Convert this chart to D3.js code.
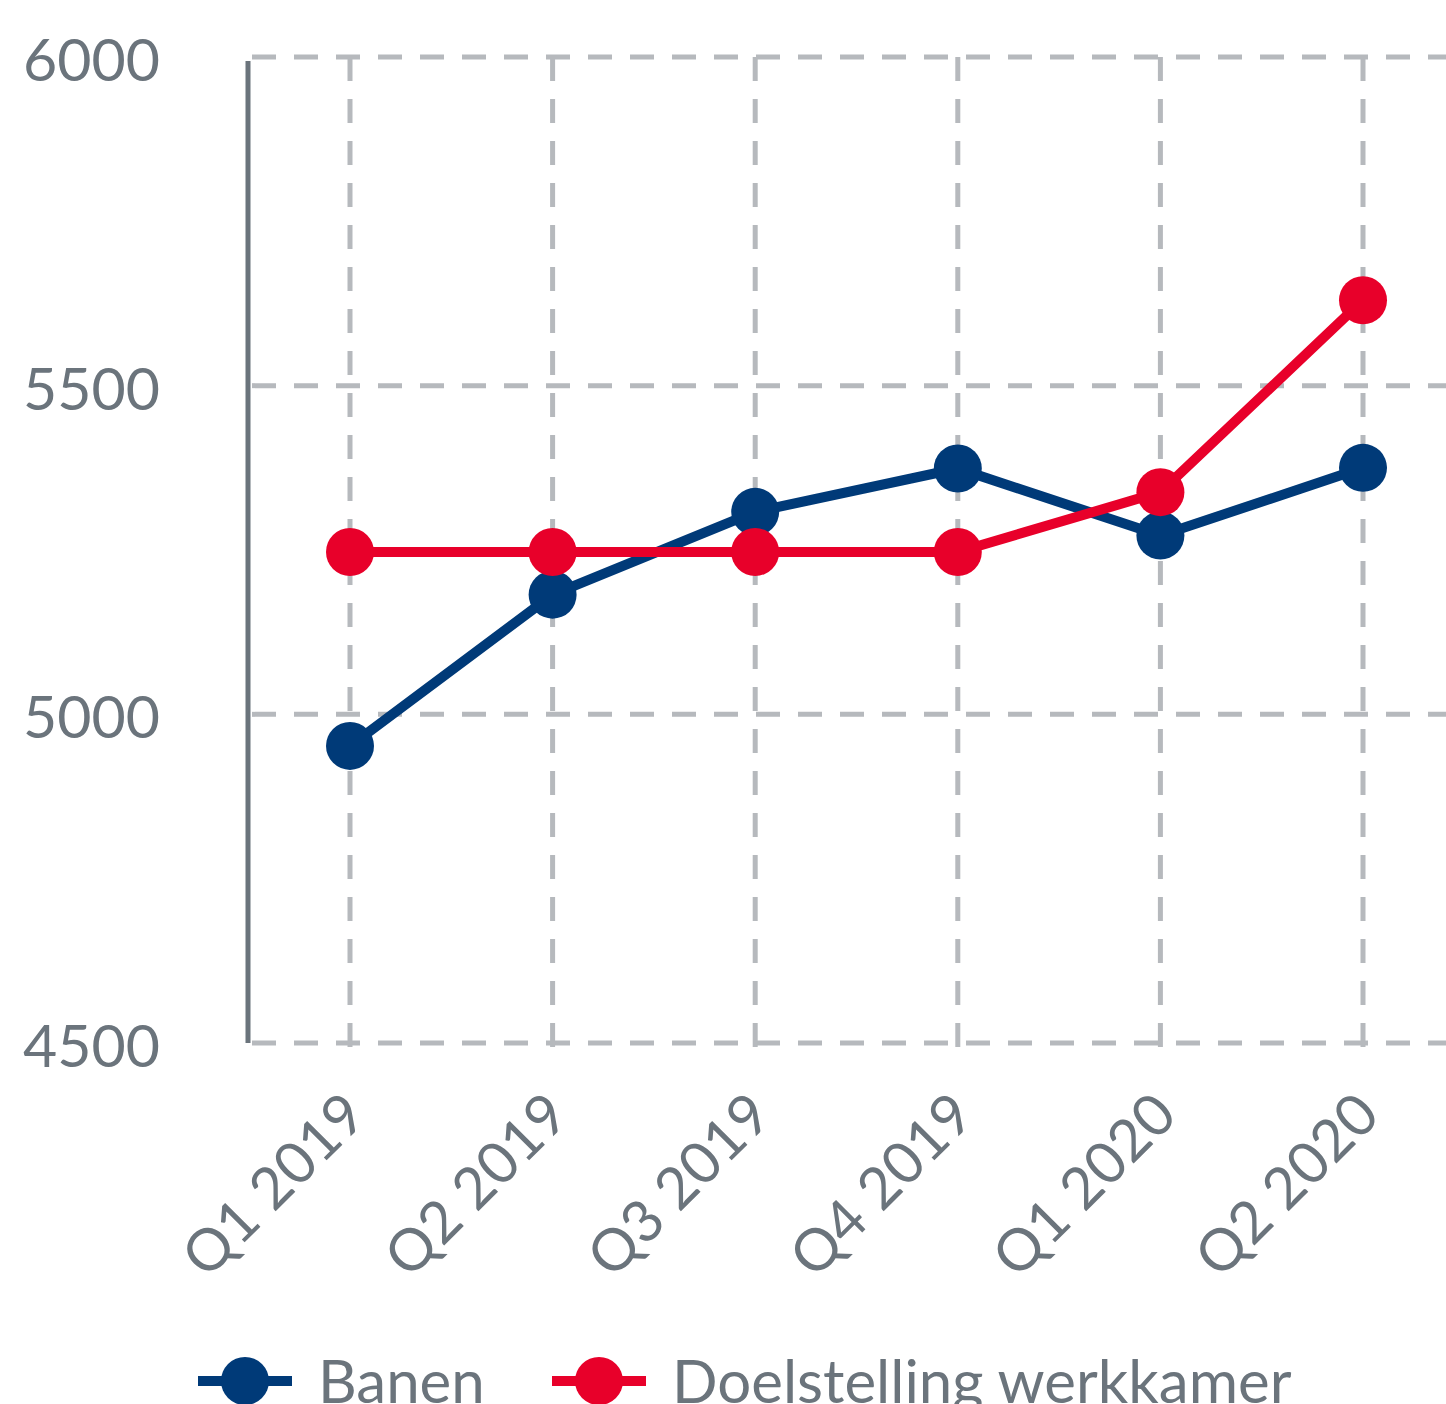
<!DOCTYPE html>
<html>
<head>
<meta charset="utf-8">
<script src="https://cdn.jsdelivr.net/npm/d3@7"></script>
<style>
  html, body { margin: 0; padding: 0; background: #fff; overflow: hidden; }
  svg { display: block; font-family: Lato, "Open Sans", sans-serif; }
</style>
</head>
<body>
<svg width="1446" height="1404"></svg>
<script>
const width = 1446, height = 1404;
const svg = d3.select("svg");

// data
const quarters = ["Q1 2019", "Q2 2019", "Q3 2019", "Q4 2019", "Q1 2020", "Q2 2020"];
const banen = [4952, 5182, 5308, 5374, 5272, 5375];
const doelstelling = [5247, 5247, 5247, 5247, 5338, 5630];
const yTicks = [4500, 5000, 5500, 6000];
const seriesNames = ["Banen", "Doelstelling werkkamer"];
const seriesColors = ["#003a78", "#e8002a"];

const textColor = "#6b747c";
const gridColor = "#b6b9bd";

const x = d3.scalePoint().domain(quarters).range([350, 1363]);
const y = d3.scaleLinear().domain([4500, 6000]).range([1043, 57]);

// horizontal grid
svg.append("g")
  .selectAll("line")
  .data(yTicks)
  .join("line")
  .attr("x1", 252).attr("x2", width)
  .attr("y1", d => y(d)).attr("y2", d => y(d))
  .attr("stroke", gridColor)
  .attr("stroke-width", 5)
  .attr("stroke-dasharray", "24,18");

// vertical grid
svg.append("g")
  .selectAll("line")
  .data(quarters)
  .join("line")
  .attr("x1", d => x(d)).attr("x2", d => x(d))
  .attr("y1", y(6000)).attr("y2", y(4500) + 4)
  .attr("stroke", gridColor)
  .attr("stroke-width", 5)
  .attr("stroke-dasharray", "24,18");

// y axis line
svg.append("line")
  .attr("x1", 248).attr("x2", 248)
  .attr("y1", y(6000) + 4).attr("y2", y(4500))
  .attr("stroke", textColor)
  .attr("stroke-width", 5);

// y labels
svg.append("g")
  .selectAll("text")
  .data(yTicks)
  .join("text")
  .attr("x", 160)
  .attr("y", d => y(d) + 24)
  .attr("text-anchor", "end")
  .attr("fill", textColor)
  .attr("font-size", 59)
  .text(d => d);

// x labels, rotated
svg.append("g")
  .selectAll("text")
  .data(quarters)
  .join("text")
  .attr("transform", d => `translate(${x(d) + 19},${1118}) rotate(-45)`)
  .attr("text-anchor", "end")
  .attr("fill", textColor)
  .attr("font-size", 58)
  .text(d => d);

// lines + points
const line = d3.line().x((d, i) => x(quarters[i])).y(d => y(d));
[banen, doelstelling].forEach((vals, k) => {
  const g = svg.append("g");
  g.append("path")
    .datum(vals)
    .attr("d", line)
    .attr("fill", "none")
    .attr("stroke", seriesColors[k])
    .attr("stroke-width", 10);
  g.selectAll("circle")
    .data(vals)
    .join("circle")
    .attr("cx", (d, i) => x(quarters[i]))
    .attr("cy", d => y(d))
    .attr("r", 24)
    .attr("fill", seriesColors[k]);
});

// legend
const legendX = [198, 552];
const legend = svg.append("g");
seriesNames.forEach((name, k) => {
  const lx = legendX[k], ly = 1381;
  legend.append("line")
    .attr("x1", lx).attr("x2", lx + 94)
    .attr("y1", ly).attr("y2", ly)
    .attr("stroke", seriesColors[k])
    .attr("stroke-width", 10);
  legend.append("circle")
    .attr("cx", lx + 47).attr("cy", ly)
    .attr("r", 24)
    .attr("fill", seriesColors[k]);
  legend.append("text")
    .attr("x", lx + 120)
    .attr("y", ly + 22)
    .attr("fill", textColor)
    .attr("font-size", 60)
    .text(name);
});
</script>
</body>
</html>
